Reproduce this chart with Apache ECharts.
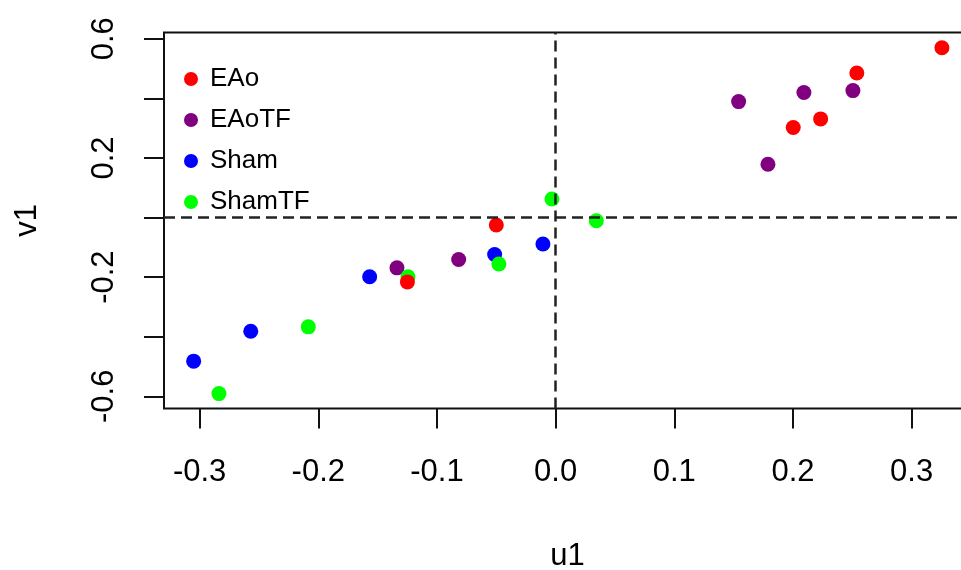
<!DOCTYPE html>
<html>
<head>
<meta charset="utf-8">
<script src="https://cdn.jsdelivr.net/npm/echarts@6/dist/echarts.min.js"></script>
<style>
  html, body { margin: 0; padding: 0; background: #fff; }
  #chart { width: 961px; height: 570px; }
</style>
</head>
<body>
<div id="chart"></div>
<script>
// canonical correlation scores
const groups = ['EAo', 'EAoTF', 'Sham', 'ShamTF']
const colors = { EAo: '#ff0000', EAoTF: '#800080', Sham: '#0000ff', ShamTF: '#00ff00' }

const eaoU = [0.3255, 0.2538, 0.2233, 0.2002, -0.050, -0.1249]
const eaoV = [0.570, 0.485, 0.331, 0.302, -0.025, -0.216]
const eaotfU = [0.2505, 0.2092, 0.1542, 0.1789, -0.0817, -0.1337]
const eaotfV = [0.426, 0.4195, 0.389, 0.179, -0.141, -0.169]
const shamU = [-0.0107, -0.0514, -0.1567, -0.2569, -0.305]
const shamV = [-0.089, -0.124, -0.199, -0.3815, -0.482]
const shamtfU = [-0.0031, 0.0343, -0.0478, -0.1244, -0.2084, -0.2837]
const shamtfV = [0.062, -0.011, -0.156, -0.199, -0.367, -0.591]

const xTicks = [-0.3, -0.2, -0.1, 0.0, 0.1, 0.2, 0.3]
const yTicks = [-0.6, -0.4, -0.2, 0.0, 0.2, 0.4, 0.6]
const yLabels = [-0.6, -0.2, 0.2, 0.6]

const pairs = (u, v) => u.map((x, i) => [x, v[i]])
const font = 'Liberation Sans, Arial, sans-serif'

function scatter (name, u, v) {
  return {
    name: name,
    type: 'scatter',
    symbol: 'circle',
    symbolSize: 15,
    itemStyle: { color: colors[name], opacity: 1 },
    data: pairs(u, v)
  }
}

const chart = echarts.init(document.getElementById('chart'))
const option = {
  animation: false,
  backgroundColor: '#fff',
  textStyle: { fontFamily: font },
  grid: {
    left: 164,
    top: 32.5,
    width: 807,
    height: 376,
    outerBoundsMode: 'none',
    containLabel: false,
    show: true,
    borderColor: '#111',
    borderWidth: 2
  },
  legend: {
    data: groups,
    orient: 'vertical',
    left: 179,
    top: 60,
    icon: 'circle',
    itemWidth: 28,
    itemHeight: 14,
    itemGap: 13,
    textStyle: { fontSize: 26, color: '#000', fontFamily: font, lineHeight: 28 }
  },
  xAxis: {
    type: 'value',
    min: -0.33,
    max: 0.35,
    name: 'u1',
    nameLocation: 'middle',
    nameGap: 132,
    nameTextStyle: { fontSize: 31, color: '#000', fontFamily: font },
    axisLine: { show: false, onZero: false },
    splitLine: { show: false },
    axisTick: {
      show: true,
      length: 20,
      customValues: xTicks,
      lineStyle: { color: '#111', width: 2 }
    },
    axisLabel: {
      customValues: xTicks,
      margin: 48,
      fontSize: 31,
      color: '#000',
      fontFamily: font,
      formatter: v => v.toFixed(1)
    }
  },
  yAxis: {
    type: 'value',
    min: -0.641,
    max: 0.621,
    name: 'v1',
    nameLocation: 'middle',
    nameGap: 121,
    nameTextStyle: { fontSize: 31, color: '#000', fontFamily: font },
    axisLine: { show: false, onZero: false },
    splitLine: { show: false },
    axisTick: {
      show: true,
      length: 20,
      customValues: yTicks,
      lineStyle: { color: '#111', width: 2 }
    },
    axisLabel: {
      customValues: yLabels,
      rotate: 90,
      margin: 44,
      fontSize: 31,
      color: '#000',
      fontFamily: font,
      formatter: v => v.toFixed(1)
    }
  },
  series: [
    Object.assign(scatter('Sham', shamU, shamV), {
      markLine: {
        silent: true,
        symbol: ['none', 'none'],
        label: { show: false },
        lineStyle: { color: '#222', type: [11, 6], width: 2.5 },
        data: [{ xAxis: 0 }, { yAxis: 0 }]
      }
    }),
    scatter('EAoTF', eaotfU, eaotfV),
    scatter('ShamTF', shamtfU, shamtfV),
    scatter('EAo', eaoU, eaoV)
  ]
}
chart.setOption(option)
</script>
</body>
</html>
